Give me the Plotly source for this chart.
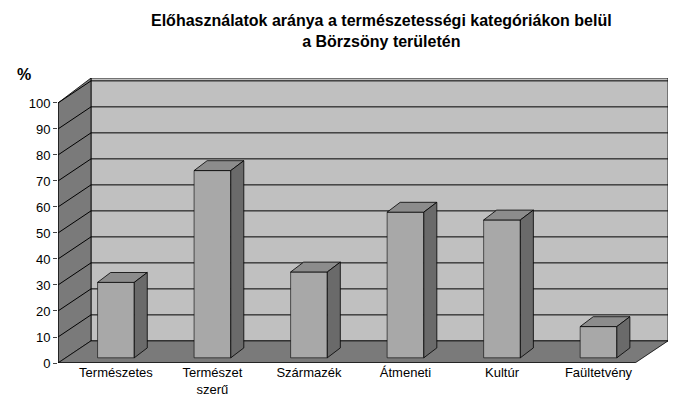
import plotly.graph_objects as go

categories = ["Természetes", "Természet<br>szerű", "Származék", "Átmeneti", "Kultúr", "Faültetvény"]
values = [29, 72, 33, 56, 53, 12]
yticks = list(range(0, 101, 10))

pos = list(range(len(categories)))
X0, XR, YTOP = -0.6, 5.72, 109.6
WDX, WDY = 0.342, 8.5
BW, BDX, BDY, BASE = 0.38, 0.135, 3.8, 2

fig = go.Figure(go.Bar(x=pos, y=values, base=BASE, width=BW,
                       marker=dict(color="#a8a8a8", line=dict(color="black", width=0.6))))
shapes = []
def poly(pts, fill, layer="below"):
    p = "M " + " L ".join(f"{x},{y}" for x, y in pts) + " Z"
    shapes.append(dict(type="path", path=p, xref="x", yref="y", fillcolor=fill,
                       line=dict(color="black", width=0.8), layer=layer))
poly([(X0 + WDX, WDY), (XR, WDY), (XR, YTOP), (X0 + WDX, YTOP)], "#c0c0c0")
poly([(X0, 0), (X0 + WDX, WDY), (X0 + WDX, YTOP), (X0, 100)], "#7a7a7a")
poly([(X0, 0), (XR - WDX, 0), (XR, WDY), (X0 + WDX, WDY)], "#7a7a7a")
for v in yticks[1:]:
    shapes.append(dict(type="line", xref="x", yref="y", x0=X0 + WDX, x1=XR, y0=v + WDY, y1=v + WDY,
                       line=dict(color="black", width=1), layer="below"))
    shapes.append(dict(type="line", xref="x", yref="y", x0=X0, x1=X0 + WDX, y0=v, y1=v + WDY,
                       line=dict(color="black", width=1), layer="below"))
for c, v in zip(pos, values):
    t = v + BASE
    poly([(c - BW/2, t), (c + BW/2, t), (c + BW/2 + BDX, t + BDY), (c - BW/2 + BDX, t + BDY)], "#8c8c8c", "above")
    poly([(c + BW/2, BASE), (c + BW/2, t), (c + BW/2 + BDX, t + BDY), (c + BW/2 + BDX, BASE + BDY)], "#6a6a6a", "above")
shapes.append(dict(type="line", xref="x", yref="y", x0=X0, x1=XR - WDX, y0=0, y1=0, line=dict(color="black", width=1)))
shapes.append(dict(type="line", xref="x", yref="y", x0=X0, x1=X0, y0=0, y1=100, line=dict(color="black", width=1)))

fig.update_layout(
    width=676, height=407, margin=dict(l=50, r=16, t=70, b=52, autoexpand=False),
    paper_bgcolor="white", plot_bgcolor="white", showlegend=False, shapes=shapes,
    font=dict(family="Liberation Sans, Arial", color="black", size=13),
    xaxis=dict(range=[X0, XR], tickvals=pos, ticktext=categories, showgrid=False,
               zeroline=False, showline=False, ticks=""),
    yaxis=dict(range=[0, YTOP], tickvals=yticks, showgrid=False, zeroline=False,
               showline=False, ticks="outside", ticklen=4),
    annotations=[
        dict(text="<b>Előhasználatok aránya a természetességi kategóriákon belül<br>a Börzsöny területén</b>",
             xref="paper", yref="paper", x=0.53, y=1.0, yshift=68, yanchor="top", showarrow=False,
             font=dict(size=16)),
        dict(text="<b>%</b>", xref="paper", yref="paper", x=-0.07, y=1.0, yshift=14,
             showarrow=False, font=dict(size=16), xanchor="left")],
)
fig.write_html("out.html")
